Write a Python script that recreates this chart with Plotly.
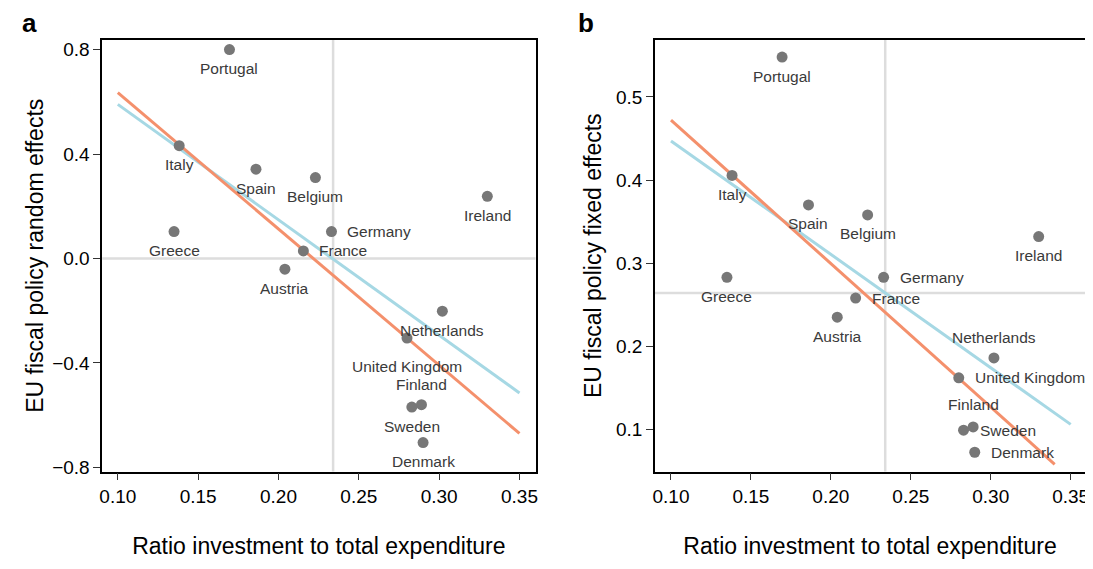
import plotly.graph_objects as go

countries = ["Portugal","Italy","Spain","Belgium","Ireland","Greece","Germany","France",
             "Austria","Netherlands","United Kingdom","Finland","Sweden","Denmark"]
ratio = [0.1695,0.1382,0.186,0.223,0.330,0.135,0.233,0.2155,0.204,0.302,0.280,0.289,0.283,0.290]
random_eff = [0.80,0.432,0.342,0.310,0.238,0.103,0.103,0.029,-0.041,-0.202,-0.305,-0.560,-0.569,-0.705]
fixed_eff = [0.548,0.4056,0.370,0.358,0.332,0.283,0.283,0.258,0.235,0.186,0.162,0.103,0.099,0.0725]

fit_x = [0.10, 0.35]
orange_a = [0.635, -0.67]
blue_a = [0.59, -0.515]
fit_x_orange_b = [0.10, 0.34]
orange_b = [0.472, 0.058]
blue_b = [0.447, 0.106]

vline_x = 0.234
hline_a = 0.0
hline_b = 0.264

place_a = {"Germany": (14, 0, "left"), "France": (14, 0, "left"),
           "Finland": (0, 20, "center"), "United Kingdom": (0, -28, "center")}
place_b = {"Germany": (14, 0, "left"), "France": (14, 0, "left"),
           "United Kingdom": (14, 0, "left"), "Netherlands": (0, 20, "center"),
           "Finland": (0, 22, "center"), "Sweden": (14, 0, "left"), "Denmark": (14, 0, "left")}

fig = go.Figure()
ORANGE = "#F4906C"
BLUE = "#A6D8E4"
GRAYL = "#DDDDDD"

def panel(xa, ya, yvals, orange_x, orange_y, blue_y, hl, place):
    xr = "x" if xa == 1 else "x2"
    yr = "y" if ya == 1 else "y2"
    fig.add_trace(go.Scatter(x=[vline_x, vline_x], y=[-10, 10], mode="lines",
                             line=dict(color=GRAYL, width=2.5), xaxis=xr, yaxis=yr, hoverinfo="skip"))
    fig.add_trace(go.Scatter(x=[0, 1], y=[hl, hl], mode="lines",
                             line=dict(color=GRAYL, width=2.5), xaxis=xr, yaxis=yr, hoverinfo="skip"))
    fig.add_trace(go.Scatter(x=fit_x, y=blue_y, mode="lines", line=dict(color=BLUE, width=3),
                             xaxis=xr, yaxis=yr))
    fig.add_trace(go.Scatter(x=orange_x, y=orange_y, mode="lines", line=dict(color=ORANGE, width=3),
                             xaxis=xr, yaxis=yr))
    fig.add_trace(go.Scatter(x=ratio, y=yvals, mode="markers",
                             marker=dict(color="#777777", size=11), xaxis=xr, yaxis=yr))
    for c, xv, yv in zip(countries, ratio, yvals):
        dx, dy, anc = place.get(c, (0, -19, "center"))
        fig.add_annotation(x=xv, y=yv, xref=xr, yref=yr, text=c, showarrow=False,
                           xshift=dx, yshift=dy, xanchor=anc, yanchor="middle",
                           font=dict(size=15.5, color="#3a3a3a"))

panel(1, 1, random_eff, fit_x, orange_a, blue_a, hline_a, place_a)
panel(2, 2, fixed_eff, fit_x_orange_b, orange_b, blue_b, hline_b, place_b)

axis_common = dict(showgrid=False, zeroline=False, showline=True, linecolor="black", linewidth=1.5,
                   mirror=True, ticks="outside", ticklen=7, tickcolor="#333",
                   tickfont=dict(size=19, color="black"))
TF = dict(size=23, color="black")
fig.update_layout(
    width=1093, height=569, paper_bgcolor="white", plot_bgcolor="white",
    showlegend=False, margin=dict(l=0, r=0, t=0, b=0),
    font=dict(family="Liberation Sans, Arial, sans-serif"),
    xaxis=dict(domain=[0.084, 0.483], range=[0.0903, 0.360], tickvals=[0.10,0.15,0.20,0.25,0.30,0.35],
               tickformat=".2f", title=dict(text="Ratio investment to total expenditure", font=TF, standoff=32),
               **axis_common),
    yaxis=dict(domain=[0.177, 0.945], range=[-0.816, 0.837], tickvals=[-0.8,-0.4,0,0.4,0.8],
               ticktext=["\u22120.8","\u22120.4","0.0","0.4","0.8"],
               title=dict(text="EU fiscal policy random effects", font=TF, standoff=2),
               **axis_common),
    xaxis2=dict(domain=[0.593, 0.989], range=[0.09, 0.359], tickvals=[0.10,0.15,0.20,0.25,0.30,0.35],
                tickformat=".2f", anchor="y2",
                title=dict(text="Ratio investment to total expenditure", font=TF, standoff=32),
                **axis_common),
    yaxis2=dict(domain=[0.177, 0.945], range=[0.0493, 0.5686], tickvals=[0.1,0.2,0.3,0.4,0.5],
                tickformat=".1f", anchor="x2",
                title=dict(text="EU fiscal policy fixed effects", font=TF, standoff=8),
                **axis_common),
)
fig.add_annotation(x=0.008, y=1.005, xref="paper", yref="paper", text="<b>a</b>", showarrow=False,
                   xanchor="left", yanchor="top", font=dict(size=26, color="black"))
fig.add_annotation(x=0.520, y=1.005, xref="paper", yref="paper", text="<b>b</b>", showarrow=False,
                   xanchor="left", yanchor="top", font=dict(size=26, color="black"))
fig.write_html("out.html")
